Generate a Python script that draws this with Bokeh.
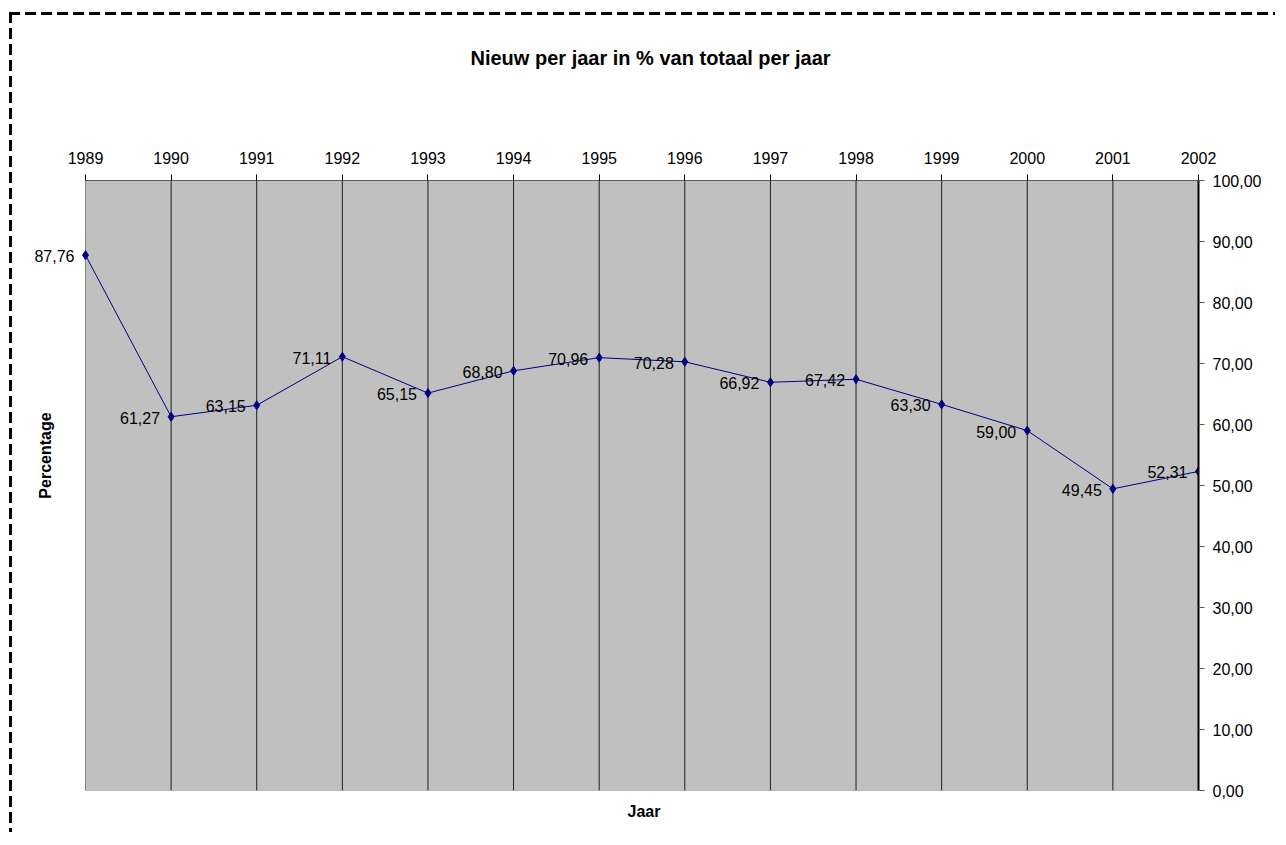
import math
from bokeh.plotting import figure
from bokeh.models import ColumnDataSource, LabelSet, Label, Title
from bokeh.embed import file_html
from bokeh.resources import INLINE
from bokeh.core.properties import value

# ---- data ----
years = [1989, 1990, 1991, 1992, 1993, 1994, 1995, 1996, 1997, 1998, 1999, 2000, 2001, 2002]
percentages = [87.76, 61.27, 63.15, 71.11, 65.15, 68.80, 70.96, 70.28, 66.92, 67.42, 63.30, 59.00, 49.45, 52.31]
y_ticks = [0, 10, 20, 30, 40, 50, 60, 70, 80, 90, 100]
title_text = "Nieuw per jaar in % van totaal per jaar"
x_label = "Jaar"
y_label = "Percentage"


def nl(v):
    return f"{v:.2f}".replace(".", ",")


FONT = "Liberation Sans"
NAVY = "#000080"

# layout (pixels)
PLOT_W = 1113      # width of the grey plot area
LEFT_PAD = 73      # white space left of the grey area, inside the frame
PLOT_H = 610
px_per_year = PLOT_W / (years[-1] - years[0])
x_start = years[0] - LEFT_PAD / px_per_year

p = figure(width=LEFT_PAD + PLOT_W + 80, height=820, output_backend="svg", toolbar_location=None,
           x_range=(x_start, years[-1]), y_range=(y_ticks[0], y_ticks[-1]),
           x_axis_location="above", y_axis_location="right",
           min_border_left=0, min_border_right=80, min_border_top=165, min_border_bottom=45,
           margin=(12, 0, 0, 9))
p.styles = {
    "border-left": "3px solid transparent",
    "border-top": "3px solid transparent",
    "background-origin": "border-box",
    "background-clip": "border-box",
    "background-image": ("repeating-linear-gradient(to right, black 0px, black 11px, transparent 11px, transparent 16px), "
                         "repeating-linear-gradient(to bottom, black 0px, black 11px, transparent 11px, transparent 16px)"),
    "background-size": "100% 3px, 3px 100%",
    "background-repeat": "no-repeat",
    "background-position": "0 0, 0 0",
}

p.background_fill_color = "white"
p.border_fill_color = "white"
p.outline_line_color = None
p.title.visible = False

# spacer between the top axis and the title, then the title (outermost)
p.add_layout(Title(text=" ", standoff=75, text_font_size="1px"), "above")
p.add_layout(Title(text=title_text, align="left", offset=458, standoff=4, text_font=FONT,
                   text_font_size="20px", text_font_style="bold", text_color="black"), "above")

p.add_layout(Title(text=x_label, align="left", offset=615, standoff=20, text_font=FONT,
                   text_font_size="16px", text_font_style="bold", text_color="black"), "below")

# grids off; drawn as segments inside the grey area
p.xgrid.visible = False
p.ygrid.visible = False

# x axis (top)
xa = p.xaxis[0]
xa.ticker = years
xa.major_label_overrides = {y: str(y) for y in years}
xa.major_tick_out = 6
xa.major_tick_in = 0
xa.minor_tick_line_color = None
xa.axis_line_color = None
xa.major_tick_line_color = "black"
xa.major_label_standoff = 11
xa.major_label_text_font = FONT
xa.major_label_text_font_size = "16px"
xa.major_label_text_color = "black"

# y axis (right)
ya = p.yaxis[0]
ya.ticker = y_ticks
ya.major_label_overrides = {t: nl(t) for t in y_ticks}
ya.major_tick_out = 6
ya.major_tick_in = 0
ya.minor_tick_line_color = None
ya.axis_line_color = "black"
ya.axis_line_width = 2
ya.major_tick_line_color = "#555555"
ya.major_label_standoff = 8
ya.major_label_text_font = FONT
ya.major_label_text_font_size = "16px"
ya.major_label_text_color = "black"

# grey plot area
p.quad(left=[years[0]], right=[years[-1]], bottom=[y_ticks[0]], top=[y_ticks[-1]],
       fill_color="#c0c0c0", line_color="#808080", line_width=1)
# vertical year lines
inner = years[1:-1]
p.segment(x0=inner, y0=[y_ticks[0]] * len(inner), x1=inner, y1=[y_ticks[-1]] * len(inner),
          line_color="black", line_alpha=0.85, line_width=1)
# top edge
p.segment(x0=[years[0]], y0=[y_ticks[-1]], x1=[years[-1]], y1=[y_ticks[-1]],
          line_color="black", line_width=1)

# series
p.line(years, percentages, line_color=NAVY, line_width=1)
p.scatter(years, percentages, marker="diamond", size=9, fill_color=NAVY, line_color=NAVY)

src = ColumnDataSource(dict(x=years, y=percentages, label=[nl(v) for v in percentages]))
p.add_layout(LabelSet(x="x", y="y", text="label", source=src, text_align="right",
                      text_baseline="middle", x_offset=-11, y_offset=-1,
                      text_font=value(FONT), text_font_size="16px", text_color="black"))

# y label (inside the white left margin of the frame)
p.add_layout(Label(x=years[0] - 40 / px_per_year, y=(790 - 455) / PLOT_H * 100, text=y_label,
                   angle=math.pi / 2, text_align="center", text_baseline="middle",
                   text_font=FONT, text_font_size="16px", text_font_style="bold",
                   text_color="black"))

open("out.html", "w").write(file_html(p, INLINE))
